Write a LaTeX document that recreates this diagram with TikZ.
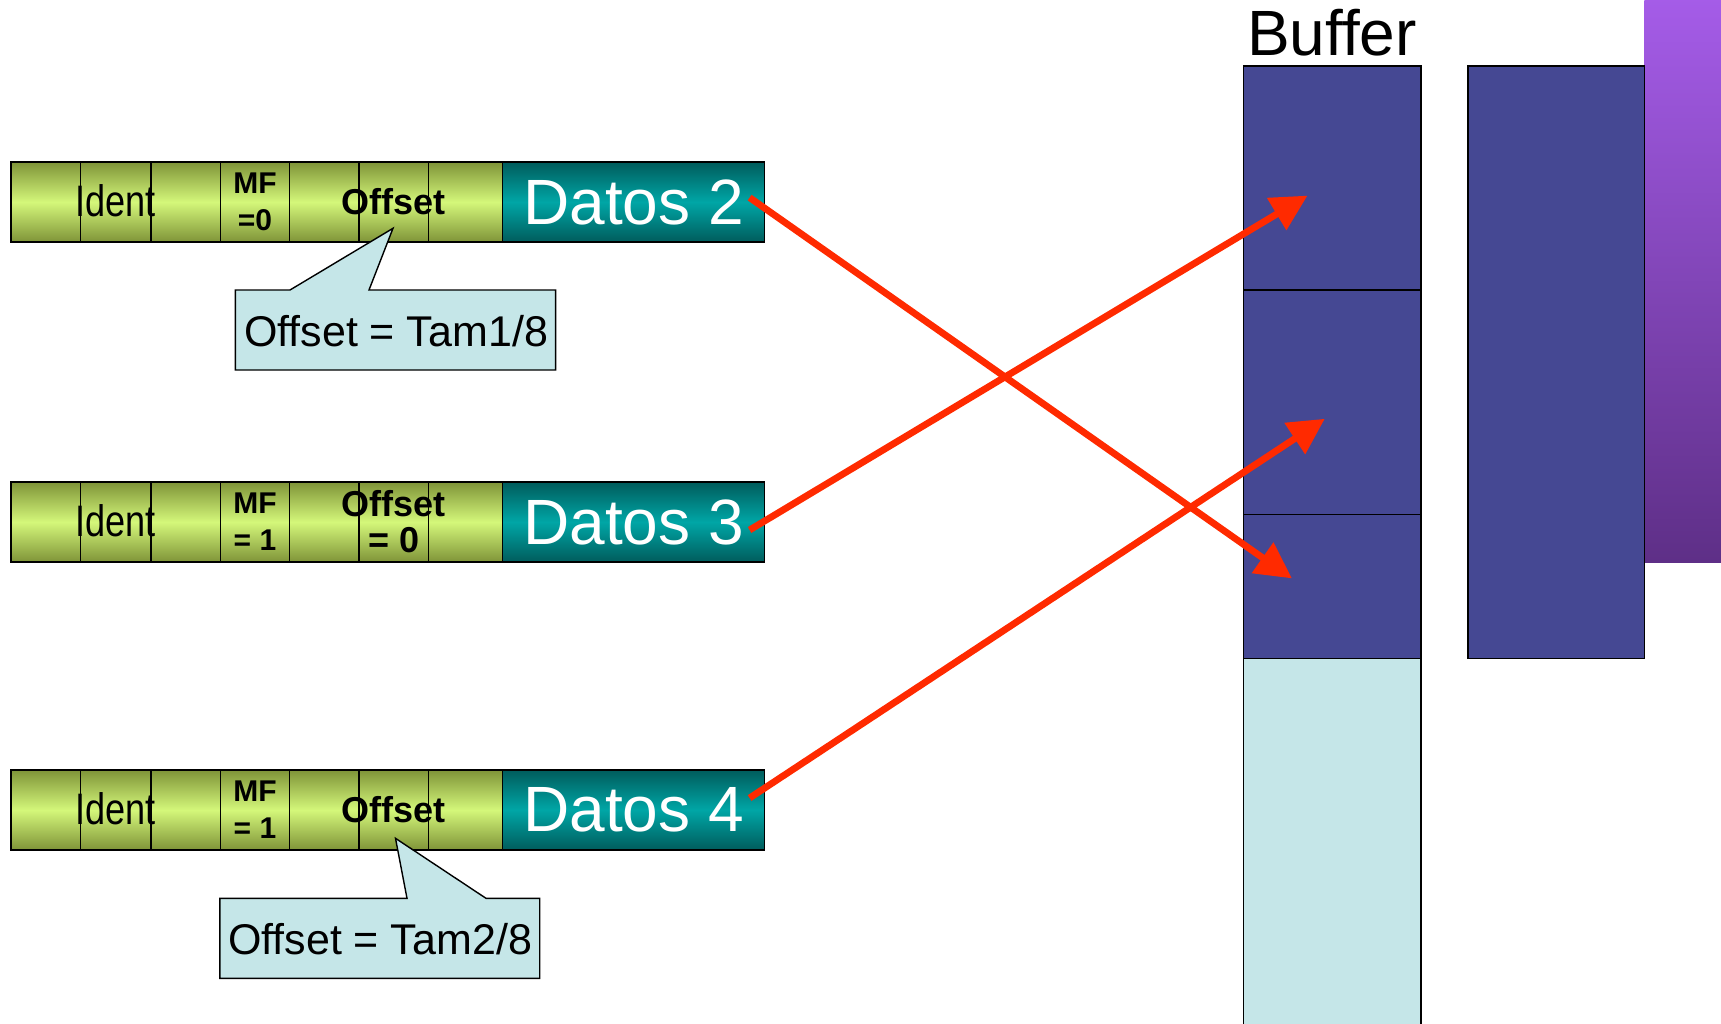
\documentclass[tikz,border=0pt]{standalone}
\usepackage{fontspec}
\setmainfont{Liberation Sans}
\usepackage{graphicx}
\usetikzlibrary{arrows.meta}
\definecolor{bufblue}{HTML}{454893}
\definecolor{bufcyan}{HTML}{C5E6E8}
\definecolor{pktolive}{HTML}{7F9438}
\definecolor{pktlime}{HTML}{D4F77A}
\definecolor{tealdark}{HTML}{005C5C}
\definecolor{tealmid}{HTML}{00A6A6}
\definecolor{arrowred}{HTML}{FF2A00}
\definecolor{purtop}{HTML}{A55CE8}
\definecolor{purbot}{HTML}{5E2F87}
\tikzset{
  greencell/.style={draw=black,line width=0.8pt,top color=pktolive,bottom color=pktolive,middle color=pktlime},
  datcell/.style={draw=black,line width=0.8pt,top color=tealdark,bottom color=tealdark,middle color=tealmid,
    text=white,font=\fontsize{32}{32}\selectfont,inner sep=0pt},
  identtxt/.style={font=\fontsize{21}{21}\selectfont,inner sep=0pt},
  mftxt/.style={font=\bfseries\fontsize{15}{18.5}\selectfont,align=center,inner sep=0pt},
  offtxt/.style={font=\bfseries\fontsize{18}{18}\selectfont,align=center,inner sep=0pt},
  bufcell/.style={fill=bufblue,draw=black,line width=0.8pt},
  callout/.style={fill=bufcyan,draw=black,line width=0.7pt},
  callouttxt/.style={font=\fontsize{21.5}{21.5}\selectfont,inner sep=0pt},
  redarrow/.style={draw=arrowred,line width=3.4pt,-{Triangle[length=18pt,width=18pt]}}
}
\newcommand\pkt[5]{%
  \foreach \xa/\xb in {11/80.6,80.6/150.7,150.7/220.4,220.4/289.5,289.5/359.2,359.2/428.3,428.3/502.4}{
    \path[greencell] (\xa,#1) rectangle (\xb,#1+80);
  }
  \node[datcell,minimum width=131.1pt,minimum height=40pt] (dat#2) at (633.5,#1+40) {#5};
  \node[identtxt] (ident#2) at (115.6,#1+39) {\scalebox{0.86}[1.05]{Ident}};
  \node[mftxt] (mf#2) at (255,#1+40) {#3};
  \node[offtxt] (off#2) at (393.7,#1+40) {#4};
}
\begin{document}
\begin{tikzpicture}[x=0.5pt,y=-0.5pt]
\useasboundingbox (0,0) rectangle (1721,1024);
% purple band
\path[top color=purtop,bottom color=purbot] (1644.3,-2) rectangle (1723,562.3);
% buffer column
\path[fill=bufcyan,draw=black,line width=0.8pt] (1243.3,658.3) rectangle (1420.7,1034);
\path[bufcell] (1243.3,65.7) rectangle (1420.7,289.8);
\path[bufcell] (1243.3,289.8) rectangle (1420.7,514.3);
\path[bufcell] (1243.3,514.3) rectangle (1420.7,658.3);
\path[bufcell] (1467.7,65.7) rectangle (1644.3,658.3);
\node[font=\fontsize{32}{32}\selectfont,anchor=base,inner sep=0pt] (buflabel) at (1332,55) {Buffer};
% packets
\pkt{162}{1}{MF\\=0}{Offset}{Datos 2}
\pkt{482}{2}{MF\\= 1}{Offset\\= 0}{Datos 3}
\pkt{770}{3}{MF\\= 1}{Offset}{Datos 4}
% callouts
\path[callout] (235.3,290) -- (290,290) -- (393,228.3) -- (369,290) -- (555.6,290) -- (555.6,370) -- (235.3,370) -- cycle;
\node[callouttxt] (c1) at (396,331) {Offset = Tam1/8};
\path[callout] (219.9,898.3) -- (407,898.3) -- (395.5,838.3) -- (486,898.3) -- (539.7,898.3) -- (539.7,978.3) -- (219.9,978.3) -- cycle;
\node[callouttxt] (c2) at (380,939) {Offset = Tam2/8};
% arrows
\coordinate (s1) at (749.6,197.6);
\coordinate (t1) at (1292,578.4);
\coordinate (s2) at (749.6,530);
\coordinate (t2) at (1307.5,195.6);
\coordinate (s3) at (749.6,798);
\coordinate (t3) at (1324.8,418.8);
\draw[redarrow] (s1) -- (t1);
\draw[redarrow] (s2) -- (t2);
\draw[redarrow] (s3) -- (t3);
\end{tikzpicture}
\end{document}
